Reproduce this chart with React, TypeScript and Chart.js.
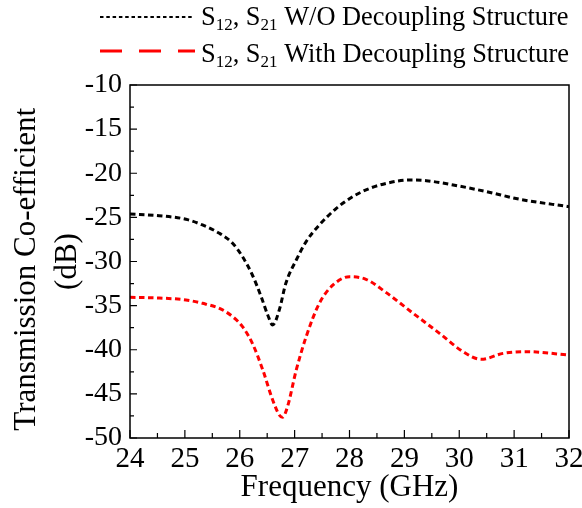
import React, { useEffect, useRef } from "react";
import { Chart, registerables } from "chart.js";

Chart.register(...registerables);

const freqBlack = [24.0, 24.53, 25.02, 25.32, 25.63, 25.87, 26.05, 26.23, 26.39, 26.51, 26.6, 26.72, 26.84, 27.03, 27.21, 27.45, 27.76, 28.06, 28.37, 28.67, 29.1, 29.4, 29.89, 30.5, 31.11, 32.0];
const s21Without = [-24.62, -24.81, -25.22, -25.86, -26.81, -27.94, -29.45, -31.53, -33.98, -36.06, -37.2, -35.5, -32.47, -29.83, -27.75, -25.86, -23.98, -22.65, -21.71, -21.14, -20.76, -20.84, -21.33, -22.09, -22.96, -23.79];

const freqRed = [24.0, 24.53, 25.02, 25.32, 25.63, 25.87, 26.05, 26.23, 26.42, 26.6, 26.72, 26.78, 26.87, 27.03, 27.21, 27.45, 27.7, 28.0, 28.3, 28.67, 29.16, 29.64, 30.07, 30.4, 30.8, 31.23, 32.0];
const s21With = [-34.06, -34.14, -34.36, -34.74, -35.31, -36.25, -37.38, -39.27, -42.29, -45.69, -47.39, -47.66, -46.45, -42.29, -38.52, -34.74, -32.66, -31.72, -32.02, -33.53, -35.87, -38.14, -40.22, -41.09, -40.41, -40.22, -40.6];

const legendLabels = ["W/O Decoupling Structure", "With Decoupling Structure"];
const xTitle = "Frequency (GHz)";
const yTitle = ["Transmission Co-efficient\u00a0\u00a0", "(dB)"];

const FONT = '"Liberation Serif", "Times New Roman", serif';

function drawSLabel(ctx: CanvasRenderingContext2D, x: number, y: number, rest: string) {
  const big = `26.4px ${FONT}`;
  const small = `17px ${FONT}`;
  ctx.textBaseline = "alphabetic";
  ctx.textAlign = "left";
  let cx = x;
  const part = (t: string, f: string, dy: number) => {
    ctx.font = f;
    ctx.fillText(t, cx, y + dy);
    cx += ctx.measureText(t).width;
  };
  part("S", big, 0);
  part("12", small, 5);
  part(", S", big, 0);
  part("21", small, 5);
  part(" " + rest, big, 0);
}

const decorPlugin = {
  id: "decor",
  afterDraw(chart: any) {
    const { ctx, chartArea, scales } = chart;
    const xs = scales.x;
    const ys = scales.y;
    ctx.save();
    ctx.strokeStyle = "#000";
    ctx.lineWidth = 1.5;
    ctx.strokeRect(chartArea.left, chartArea.top, chartArea.right - chartArea.left, chartArea.bottom - chartArea.top);
    ctx.lineWidth = 1.2;
    ctx.beginPath();
    for (let v = 24; v <= 32.001; v += 0.5) {
      const px = xs.getPixelForValue(v);
      const major = Math.abs(v - Math.round(v)) < 1e-6;
      const len = major ? 8 : 5;
      ctx.moveTo(px, chartArea.bottom);
      ctx.lineTo(px, chartArea.bottom - len);
    }
    for (let v = -50; v <= -9.99; v += 2.5) {
      const py = ys.getPixelForValue(v);
      const major = Math.abs(v / 5 - Math.round(v / 5)) < 1e-6;
      const len = major ? 7 : 4;
      ctx.moveTo(chartArea.left, py);
      ctx.lineTo(chartArea.left + len, py);
    }
    ctx.stroke();

    ctx.fillStyle = "#000";
    ctx.beginPath();
    ctx.setLineDash([3.5, 2.8]);
    ctx.lineWidth = 2.2;
    ctx.strokeStyle = "#000";
    ctx.moveTo(100, 17);
    ctx.lineTo(192, 17);
    ctx.stroke();
    drawSLabel(ctx, 201, 25, legendLabels[0]);
    ctx.beginPath();
    ctx.setLineDash([22, 17]);
    ctx.lineWidth = 3;
    ctx.strokeStyle = "#ff0000";
    ctx.moveTo(100, 51);
    ctx.lineTo(195, 51);
    ctx.stroke();
    ctx.setLineDash([]);
    drawSLabel(ctx, 201, 62, legendLabels[1]);
    ctx.restore();
  },
};

export default function App() {
  const ref = useRef<HTMLCanvasElement | null>(null);
  useEffect(() => {
    if (!ref.current) return;
    const chart = new Chart(ref.current, {
      type: "line",
      data: {
        datasets: [
          {
            label: legendLabels[0],
            data: freqBlack.map((f, i) => ({ x: f, y: s21Without[i] })),
            borderColor: "#000",
            borderWidth: 3,
            borderDash: [5.5, 3.5],
            pointRadius: 0,
            cubicInterpolationMode: "monotone",
            fill: false,
          },
          {
            label: legendLabels[1],
            data: freqRed.map((f, i) => ({ x: f, y: s21With[i] })),
            borderColor: "#ff0000",
            borderWidth: 3,
            borderDash: [5.5, 3.5],
            pointRadius: 0,
            cubicInterpolationMode: "monotone",
            fill: false,
          },
        ],
      },
      options: {
        animation: false,
        responsive: true,
        maintainAspectRatio: false,
        layout: { padding: { top: 85, right: 13, left: 0, bottom: 0 } },
        plugins: {
          legend: { display: false },
          tooltip: { enabled: false },
        },
        scales: {
          x: {
            type: "linear",
            min: 24,
            max: 32,
            ticks: {
              stepSize: 1,
              color: "#000",
              font: { family: FONT, size: 29 },
              padding: -4,
              maxRotation: 0,
            },
            grid: { display: false },
            border: { display: false },
            title: {
              display: true,
              text: xTitle,
              color: "#000",
              font: { family: FONT, size: 31 },
              padding: { top: 0, bottom: 2 },
            },
            afterFit: (s: any) => {
              s.height = 70;
              s.paddingLeft = 0;
              s.paddingRight = 0;
            },
          },
          y: {
            type: "linear",
            min: -50,
            max: -10,
            ticks: {
              stepSize: 5,
              color: "#000",
              font: { family: FONT, size: 28 },
              padding: 0,
            },
            grid: { display: false },
            border: { display: false },
            title: {
              display: true,
              text: yTitle,
              color: "#000",
              font: { family: FONT, size: 31, lineHeight: 1.3 },
              padding: { top: 7, bottom: 0 },
            },
            afterFit: (s: any) => {
              s.width = 130;
              s.paddingTop = 0;
              s.paddingBottom = 0;
            },
          },
        },
      },
      plugins: [decorPlugin],
    });
    return () => chart.destroy();
  }, []);
  return (
    <div style={{ position: "fixed", left: 0, top: 0, width: 582, height: 508, background: "#fff" }}>
      <canvas ref={ref} />
    </div>
  );
}
